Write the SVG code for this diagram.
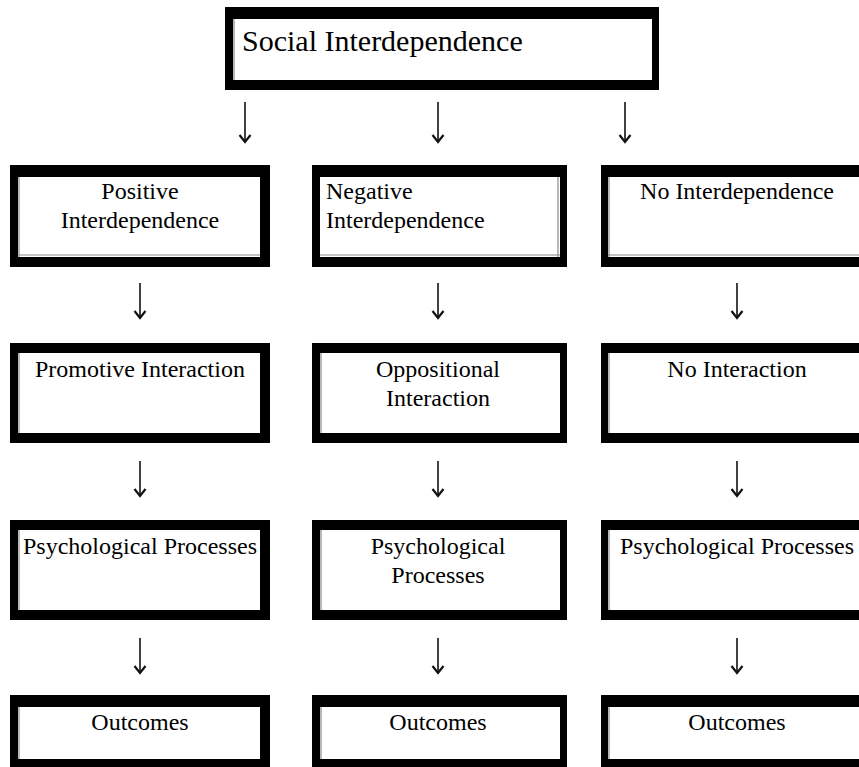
<svg xmlns="http://www.w3.org/2000/svg" width="859" height="767" viewBox="0 0 859 767">
<defs>
<style>
.outer{fill:#000;}
.inner{fill:#fff;}
.rule{stroke:#888;stroke-width:1.2;fill:none;}
.t{font-family:"Liberation Serif","Times New Roman",serif;font-size:24px;fill:#000;}
.tc{text-anchor:middle;}
.title{font-family:"Liberation Serif","Times New Roman",serif;font-size:30px;fill:#000;}
.arr{stroke:#111;stroke-width:1.6;fill:none;marker-end:url(#ah);}
</style>
<marker id="ah" viewBox="-9 -7 11 14" refX="0" refY="0" markerWidth="11" markerHeight="14" markerUnits="userSpaceOnUse" orient="auto">
<path d="M-7,-5.5 L0,0 L-7,5.5" stroke="#111" stroke-width="2.2" fill="none"/>
</marker>
</defs>

<g id="connectors">
<line class="arr" x1="245" y1="102" x2="245" y2="142"/>
<line class="arr" x1="438" y1="102" x2="438" y2="142"/>
<line class="arr" x1="625" y1="102" x2="625" y2="142"/>
<line class="arr" x1="140" y1="283" x2="140" y2="318"/>
<line class="arr" x1="438" y1="283" x2="438" y2="318"/>
<line class="arr" x1="737" y1="283" x2="737" y2="318"/>
<line class="arr" x1="140" y1="461" x2="140" y2="496"/>
<line class="arr" x1="438" y1="461" x2="438" y2="496"/>
<line class="arr" x1="737" y1="461" x2="737" y2="496"/>
<line class="arr" x1="140" y1="638" x2="140" y2="673"/>
<line class="arr" x1="438" y1="638" x2="438" y2="673"/>
<line class="arr" x1="737" y1="638" x2="737" y2="673"/>
</g>

<g id="social">
<rect class="outer" x="225" y="7" width="434" height="83"/>
<rect class="inner" x="233" y="19" width="419" height="61"/>
<line class="rule" x1="234" y1="19" x2="234" y2="80"/>
<text class="title" x="242" y="51">Social Interdependence</text>
</g>

<g id="positive">
<rect class="outer" x="10" y="165" width="260" height="102"/>
<rect class="inner" x="18" y="177" width="242" height="80"/>
<line class="rule" x1="19" y1="177" x2="19" y2="257"/>
<line class="rule" x1="19" y1="255" x2="260" y2="255"/>
<text class="t tc" x="140" y="199">Positive</text>
<text class="t tc" x="140" y="228">Interdependence</text>
</g>

<g id="negative">
<rect class="outer" x="312" y="165" width="255" height="102"/>
<rect class="inner" x="320" y="177" width="240" height="80"/>
<line class="rule" x1="558" y1="177" x2="558" y2="257"/>
<line class="rule" x1="320" y1="255" x2="560" y2="255"/>
<text class="t" x="326" y="199">Negative</text>
<text class="t" x="326" y="228">Interdependence</text>
</g>

<g id="nointerdep">
<rect class="outer" x="601" y="165" width="280" height="102"/>
<rect class="inner" x="608" y="177" width="273" height="80"/>
<line class="rule" x1="609" y1="177" x2="609" y2="257"/>
<line class="rule" x1="608" y1="255" x2="881" y2="255"/>
<text class="t tc" x="737" y="199">No Interdependence</text>
</g>

<g id="promotive">
<rect class="outer" x="10" y="343" width="260" height="100"/>
<rect class="inner" x="18" y="353" width="242" height="80"/>
<line class="rule" x1="19" y1="353" x2="19" y2="433"/>
<text class="t tc" x="140" y="377">Promotive Interaction</text>
</g>

<g id="oppositional">
<rect class="outer" x="312" y="343" width="255" height="100"/>
<rect class="inner" x="320" y="353" width="240" height="80"/>
<line class="rule" x1="321" y1="353" x2="321" y2="433"/>
<text class="t tc" x="438" y="377">Oppositional</text>
<text class="t tc" x="438" y="406">Interaction</text>
</g>

<g id="nointeraction">
<rect class="outer" x="601" y="343" width="280" height="100"/>
<rect class="inner" x="608" y="353" width="273" height="80"/>
<line class="rule" x1="609" y1="353" x2="609" y2="433"/>
<text class="t tc" x="737" y="377">No Interaction</text>
</g>

<g id="psych1">
<rect class="outer" x="10" y="520" width="260" height="100"/>
<rect class="inner" x="18" y="530" width="242" height="80"/>
<line class="rule" x1="19" y1="530" x2="19" y2="610"/>
<text class="t tc" x="140" y="554">Psychological Processes</text>
</g>

<g id="psych2">
<rect class="outer" x="312" y="520" width="255" height="100"/>
<rect class="inner" x="320" y="530" width="240" height="80"/>
<line class="rule" x1="321" y1="530" x2="321" y2="610"/>
<text class="t tc" x="438" y="554">Psychological</text>
<text class="t tc" x="438" y="583">Processes</text>
</g>

<g id="psych3">
<rect class="outer" x="601" y="520" width="280" height="100"/>
<rect class="inner" x="608" y="530" width="273" height="80"/>
<line class="rule" x1="609" y1="530" x2="609" y2="610"/>
<text class="t tc" x="737" y="554">Psychological Processes</text>
</g>

<g id="outcomes1">
<rect class="outer" x="10" y="695" width="260" height="80"/>
<rect class="inner" x="18" y="707" width="242" height="52"/>
<line class="rule" x1="19" y1="707" x2="19" y2="759"/>
<text class="t tc" x="140" y="730">Outcomes</text>
</g>

<g id="outcomes2">
<rect class="outer" x="312" y="695" width="255" height="80"/>
<rect class="inner" x="320" y="707" width="240" height="52"/>
<line class="rule" x1="321" y1="707" x2="321" y2="759"/>
<text class="t tc" x="438" y="730">Outcomes</text>
</g>

<g id="outcomes3">
<rect class="outer" x="601" y="695" width="280" height="80"/>
<rect class="inner" x="608" y="707" width="273" height="52"/>
<line class="rule" x1="609" y1="707" x2="609" y2="759"/>
<text class="t tc" x="737" y="730">Outcomes</text>
</g>
</svg>
